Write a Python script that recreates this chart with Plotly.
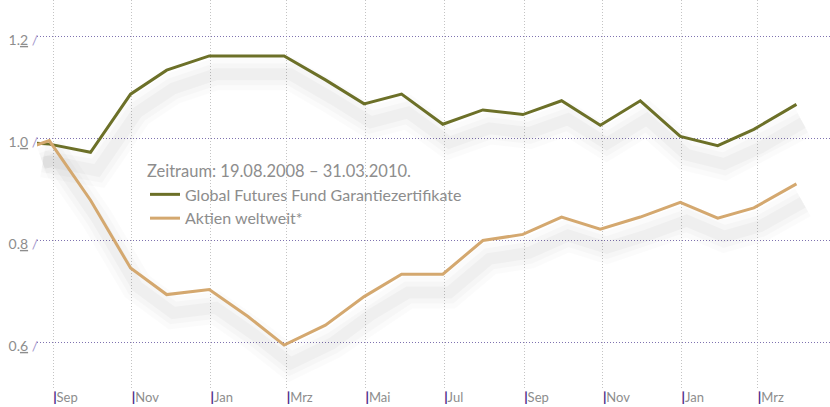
import plotly.graph_objects as go
import pandas as pd

# ---------------- data ----------------
dates = ["2008-08-19", "2008-08-29", "2008-09-30", "2008-10-31", "2008-11-28",
         "2008-12-31", "2009-01-30", "2009-02-27", "2009-03-31", "2009-04-30",
         "2009-05-29", "2009-06-30", "2009-07-31", "2009-08-31", "2009-09-30",
         "2009-10-30", "2009-11-30", "2009-12-31", "2010-01-29", "2010-02-26",
         "2010-03-31"]
fund_values = [0.990, 0.988, 0.972, 1.086, 1.133, 1.161, 1.161, 1.161, 1.114, 1.067,
               1.086, 1.027, 1.055, 1.046, 1.073, 1.025, 1.073, 1.003, 0.985, 1.017,
               1.066]
equity_values = [0.986, 0.995, 0.878, 0.745, 0.693, 0.703, 0.650, 0.594, 0.633, 0.689,
                 0.733, 0.733, 0.799, 0.811, 0.845, 0.821, 0.845, 0.874, 0.843, 0.863,
                 0.910]
series_names = ["Global Futures Fund Garantiezertifikate", "Aktien weltweit*"]
legend_title = "Zeitraum: 19.08.2008 – 31.03.2010."

x_tick_dates = ["2008-09-01", "2008-11-01", "2009-01-01", "2009-03-01", "2009-05-01",
                "2009-07-01", "2009-09-01", "2009-11-01", "2010-01-01", "2010-03-01"]
x_tick_labels = ["Sep", "Nov", "Jan", "Mrz", "Mai", "Jul", "Sep", "Nov", "Jan", "Mrz"]
y_tick_values = [0.6, 0.8, 1.0, 1.2]
y_tick_labels = ["0.6", "0.8", "1.0", "1.2"]

# ---------------- style ----------------
GREEN = "#6c7028"
BEIGE = "#d4a86f"
GRAY_TXT = "#8d8d8d"
PURPLE = "#4e2d8c"
FONT = "Lato"

x_range = [pd.Timestamp("2008-08-19 12:00"), pd.Timestamp("2010-04-26 00:00")]
y_range = [0.5098, 1.2706]

# shadow offset (pixels -> axis units)
shadow_dx = pd.Timedelta(days=5)
shadow_dy = 0.036

x_ticktext = [f"<span style='color:{PURPLE};font-weight:900'>|</span>{t}" for t in x_tick_labels]
y_ticktext = [
    f"{t[:-1]}<span style='text-decoration:underline;text-decoration-color:{PURPLE}'>{t[-1]}</span>"
    f"<span style='color:#a497cc'> /</span>"
    for t in y_tick_labels
]

fig = go.Figure()

# soft shadows (on the base axes, whose ranges are offset)
for vals in (fund_values, equity_values):
    for w, a in ((32, 0.016), (22, 0.02), (12, 0.026)):
        fig.add_trace(go.Scatter(
            x=dates, y=vals, mode="lines", xaxis="x", yaxis="y",
            line=dict(color=f"rgba(0,0,0,{a})", width=w),
            showlegend=False, hoverinfo="skip"))

# main lines (on overlay axes carrying the real scales)
fig.add_trace(go.Scatter(x=dates, y=fund_values, mode="lines", name=series_names[0],
                         xaxis="x2", yaxis="y2", line=dict(color=GREEN, width=3)))
fig.add_trace(go.Scatter(x=dates, y=equity_values, mode="lines", name=series_names[1],
                         xaxis="x2", yaxis="y2", line=dict(color=BEIGE, width=3)))

fig.update_layout(
    width=830, height=407,
    margin=dict(l=37, r=0, t=0, b=19, autoexpand=False),
    paper_bgcolor="white", plot_bgcolor="white",
    font=dict(family=FONT, color=GRAY_TXT),
    xaxis=dict(type="date", range=[x_range[0] - shadow_dx, x_range[1] - shadow_dx],
               showgrid=False, showticklabels=False, zeroline=False, showline=False,
               ticks="", automargin=False),
    yaxis=dict(range=[y_range[0] + shadow_dy, y_range[1] + shadow_dy],
               showgrid=False, showticklabels=False, zeroline=False, showline=False,
               ticks="", automargin=False),
    xaxis2=dict(type="date", overlaying="x", side="bottom", range=x_range,
                tickvals=x_tick_dates, ticktext=x_ticktext,
                ticklabelposition="outside right", ticklabelstandoff=0,
                tickfont=dict(size=13, color=GRAY_TXT, family=FONT),
                showgrid=True, gridcolor="#c4c4c4", griddash="1px,2px", gridwidth=1,
                zeroline=False, showline=False, ticks="", automargin=False),
    yaxis2=dict(overlaying="y", side="left", range=y_range,
                tickvals=y_tick_values, ticktext=y_ticktext,
                tickfont=dict(size=14, color=GRAY_TXT, family=FONT),
                ticklabelshift=4, ticklabelstandoff=-2,
                showgrid=True, gridcolor="#7f72b0", griddash="1px,2px", gridwidth=1,
                zeroline=False, showline=False, ticks="", automargin=False),
    legend=dict(
        x=(145 - 37) / 793, y=1 - (156 / 388), xanchor="left", yanchor="top",
        bgcolor="rgba(0,0,0,0)",
        font=dict(size=16, color=GRAY_TXT, family=FONT),
        title=dict(text=legend_title, font=dict(size=16.5, color=GRAY_TXT, family=FONT)),
        tracegroupgap=0,
    ),
    showlegend=True,
)

fig.write_html("out.html", config={"displayModeBar": False},
               post_script="document.body.style.margin='0';")
